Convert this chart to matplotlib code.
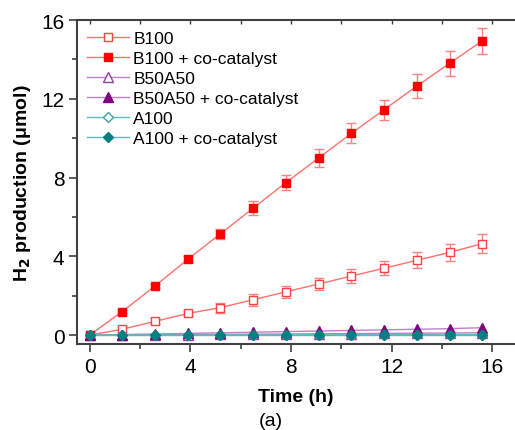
import matplotlib
matplotlib.use("Agg")
import matplotlib.pyplot as plt
from matplotlib.ticker import MultipleLocator

plt.rcParams['font.family'] = ['Liberation Sans', 'DejaVu Sans']

# time points (h)
time_h = [0, 1.3, 2.6, 3.9, 5.2, 6.5, 7.8, 9.1, 10.4, 11.7, 13.0, 14.3, 15.6]

# H2 production (umol)
b100 = [0, 0.3, 0.7, 1.1, 1.4, 1.8, 2.2, 2.6, 3.0, 3.4, 3.8, 4.2, 4.65]
b100_err = [0, 0.15, 0.15, 0.15, 0.25, 0.3, 0.3, 0.3, 0.35, 0.35, 0.4, 0.45, 0.5]
b100_cc = [0, 1.2, 2.5, 3.85, 5.15, 6.45, 7.75, 9.0, 10.25, 11.45, 12.65, 13.8, 14.95]
b100_cc_err = [0, 0.1, 0.1, 0.15, 0.25, 0.35, 0.4, 0.45, 0.5, 0.5, 0.6, 0.65, 0.65]
b50a50 = [0, 0.01, 0.02, 0.03, 0.04, 0.05, 0.06, 0.07, 0.08, 0.09, 0.1, 0.11, 0.12]
b50a50_cc = [0, 0.03, 0.06, 0.09, 0.12, 0.15, 0.18, 0.21, 0.24, 0.27, 0.3, 0.33, 0.38]
a100 = [0] * 13
a100_cc = [0, 0.01, 0.01, 0.01, 0.01, 0.02, 0.02, 0.02, 0.02, 0.02, 0.03, 0.03, 0.03]

labels = ["B100", "B100 + co-catalyst", "B50A50", "B50A50 + co-catalyst",
          "A100", "A100 + co-catalyst"]

fig = plt.figure(figsize=(5.15, 4.31), dpi=100)
ax = fig.add_axes([0.1495, 0.1995, 0.8505, 0.7515])

handles = []
# red series (legend uses only the data line, not the error bars)
h = ax.errorbar(time_h, b100, yerr=b100_err, color='#ff7070', lw=1, marker='s', ms=6,
                mfc='white', mec='#ff4040', ecolor='#ff8080', capsize=3.5, elinewidth=1,
                zorder=3)
handles.append(h[0])
h = ax.errorbar(time_h, b100_cc, yerr=b100_cc_err, color='#ff7070', lw=1, marker='s', ms=6,
                mfc='#ff0000', mec='#ff0000', ecolor='#ff8080', capsize=3.5, elinewidth=1,
                zorder=3)
handles.append(h[0])
# purple series
h, = ax.plot(time_h, b50a50, color='#c080c8', lw=1, marker='^', ms=6.5,
             mfc='white', mec='#9040a0', zorder=3)
handles.append(h)
h, = ax.plot(time_h, b50a50_cc, color='#c080c8', lw=1, marker='^', ms=6.5,
             mfc='#800080', mec='#800080', zorder=4)
handles.append(h)
# teal series
h, = ax.plot(time_h, a100, color='#60b8b8', lw=1, marker='D', ms=5.5,
             mfc='white', mec='#40a0a0', zorder=4)
handles.append(h)
h, = ax.plot(time_h, a100_cc, color='#60b8b8', lw=1, marker='D', ms=5.5,
             mfc='#008080', mec='#008080', zorder=5)
handles.append(h)

ax.set_xlim(-0.5, 16.9)
ax.set_ylim(-0.45, 16)
ax.xaxis.set_major_locator(MultipleLocator(4))
ax.xaxis.set_minor_locator(MultipleLocator(2))
ax.yaxis.set_major_locator(MultipleLocator(4))
ax.yaxis.set_minor_locator(MultipleLocator(2))

for s in ['left', 'bottom', 'top']:
    ax.spines[s].set_linewidth(1.5)
    ax.spines[s].set_color('#404040')
ax.spines['right'].set_visible(False)

ax.tick_params(which='major', direction='out', length=6, width=1.2, labelsize=15,
               color='#404040', pad=3)
ax.tick_params(which='minor', direction='out', length=3.5, width=1.2, color='#404040')

# small inward ticks on the top spine
top = ax.secondary_xaxis('top')
top.xaxis.set_major_locator(MultipleLocator(2))
top.tick_params(direction='in', length=3, width=1, color='#404040', labeltop=False)
top.spines['top'].set_visible(False)

ax.set_xlabel("Time (h)", fontsize=14, fontweight='bold', labelpad=9)
ax.set_ylabel("H$_\\mathbf{2}$ production (\u03bcmol)", fontsize=14, fontweight='bold', labelpad=6)

ax.legend(handles, labels, loc='upper left', frameon=False, fontsize=12.5,
          handlelength=2.4, handletextpad=0.25, labelspacing=0.28, borderaxespad=0.2,
          bbox_to_anchor=(0.0, 1.0))

fig.text(0.525, 0.023, "(a)", ha='center', va='center', fontsize=14)

fig.savefig("out.png", dpi=100)
